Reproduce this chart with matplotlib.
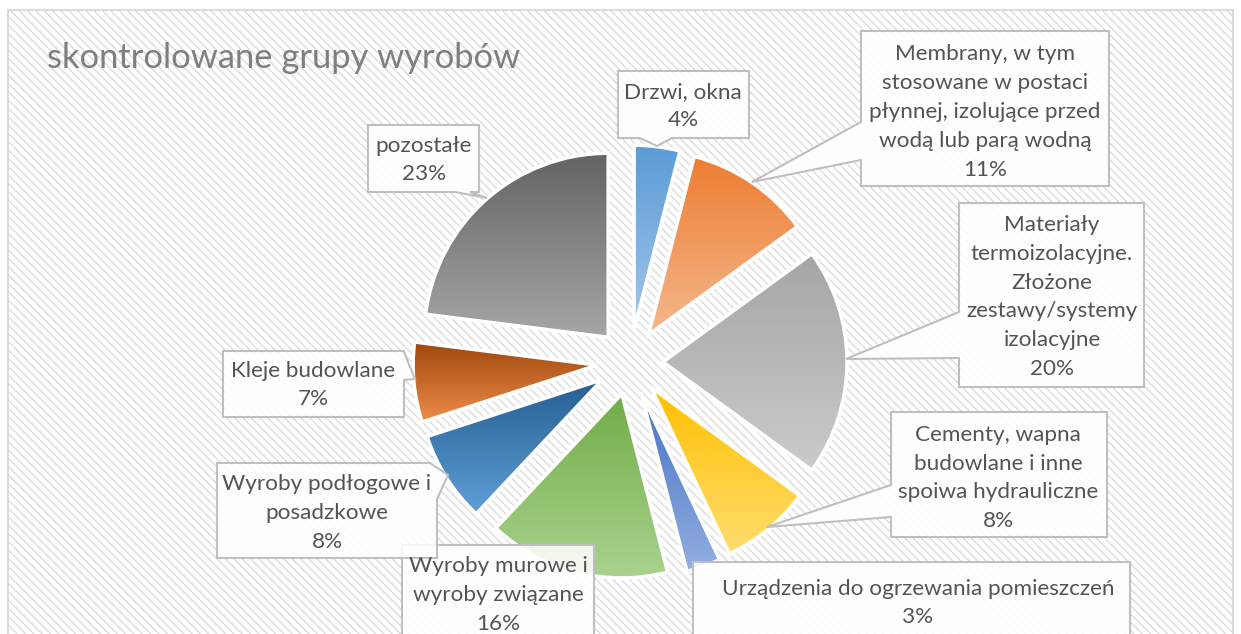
import numpy as np
import matplotlib
matplotlib.use("Agg")
import matplotlib.pyplot as plt
from matplotlib.patches import Rectangle, Polygon
from matplotlib.colors import to_rgb

W, H = 1241, 634

categories = [
    "Drzwi, okna",
    "Membrany, w tym\nstosowane w postaci\npłynnej, izolujące przed\nwodą lub parą wodną",
    "Materiały\ntermoizolacyjne.\nZłożone\nzestawy/systemy\nizolacyjne",
    "Cementy, wapna\nbudowlane i inne\nspoiwa hydrauliczne",
    "Urządzenia do ogrzewania pomieszczeń",
    "Wyroby murowe i\nwyroby związane",
    "Wyroby podłogowe i\nposadzkowe",
    "Kleje budowlane",
    "pozostałe",
]
values = [4, 11, 20, 8, 3, 16, 8, 7, 23]

top_colors = ["#5B9BD5", "#ED7D31", "#A5A5A5", "#FFC000", "#4472C4",
              "#70AD47", "#255E91", "#9E480E", "#636363"]
bottom_colors = ["#A3C6EA", "#F5B88E", "#CBCBCB", "#FFDC70", "#93AEE0",
                 "#AAD28F", "#5F9FD8", "#F08C48", "#A6A6A6"]

plt.rcParams["hatch.linewidth"] = 1.0
plt.rcParams["font.family"] = ["Lato", "DejaVu Sans"]

fig = plt.figure(figsize=(W / 100, H / 100), dpi=100)
ax = fig.add_axes([0, 0, 1, 1])


def iy(y):
    # image row -> data y (y up)
    return H - y


# hatched chart area + border
ax.add_patch(Rectangle((8, -10), 1225, iy(10) + 10, facecolor="white",
                       edgecolor="#DCDCDC", hatch="\\\\\\\\", linewidth=0, zorder=0))
ax.add_patch(Rectangle((8, -10), 1225, iy(10) + 10, facecolor="none",
                       edgecolor="#D9D9D9", linewidth=1.5, zorder=0.5))

# pie
cx, cy, R = 630, iy(362), 184
wedges, _ = ax.pie(values, radius=R, center=(cx, cy), explode=[33] * len(values),
                   startangle=90, counterclock=False, frame=True,
                   wedgeprops=dict(facecolor="none", edgecolor="white", linewidth=2.5))
for w, c_top, c_bot in zip(wedges, top_colors, bottom_colors):
    w.set_zorder(3)
    bb = w.get_path().get_extents()
    t = np.linspace(0, 1, 256)[:, None]
    grad = (1 - t) * np.array(to_rgb(c_top)) + t * np.array(to_rgb(c_bot))
    im = ax.imshow(grad[:, None, :], extent=[bb.x0, bb.x1, bb.y0, bb.y1],
                   origin="upper", aspect="auto", interpolation="bilinear", zorder=2)
    im.set_clip_path(w)


def callout(x0, y0, x1, y1, side=None, b1=None, b2=None, tip=None):
    pts = [(x0, y0)]
    if side == "top":
        pts += [(b1, y0), tip, (b2, y0)]
    if side == "corner":
        pts += [(b1, y0), tip, (x1, b2)]
    else:
        pts += [(x1, y0)]
    if side == "right":
        pts += [(x1, b1), tip, (x1, b2)]
    pts += [(x1, y1)]
    if side == "bottom":
        pts += [(b2, y1), tip, (b1, y1)]
    pts += [(x0, y1)]
    if side == "left":
        pts += [(x0, b2), tip, (x0, b1)]
    pts = [(x, iy(y)) for x, y in pts]
    ax.add_patch(Polygon(pts, closed=True, facecolor=(1, 1, 1, 0.86),
                         edgecolor="#BFBFBF", linewidth=1.5, zorder=4))


boxes = [
    dict(rect=(618, 71, 749, 138), side="bottom", b=(640, 672), tip=(657, 146), pos=(683, 106)),
    dict(rect=(861, 31, 1109, 186), side="left", b=(122, 160), tip=(752, 182), pos=(985, 112)),
    dict(rect=(959, 203, 1144, 387), side="left", b=(312, 358), tip=(846, 359), pos=(1052, 297)),
    dict(rect=(891, 412, 1107, 537), side="left", b=(485, 517), tip=(767, 527), pos=(998, 478)),
    dict(rect=(693, 562, 1130, 700), side=None, b=(None, None), tip=None, pos=(918, 603)),
    dict(rect=(402, 545, 594, 700), side=None, b=(None, None), tip=None, pos=(498, 595)),
    dict(rect=(217, 463, 437, 558), side="corner", b=(430, 499), tip=(448, 475), pos=(327, 513)),
    dict(rect=(223, 351, 404, 417), side="right", b=(352, 380), tip=(415, 379), pos=(313, 385)),
    dict(rect=(368, 125, 479, 192), side="bottom", b=(455, 470), tip=(487, 198), pos=(424, 160)),
]

for cat, v, bx in zip(categories, values, boxes):
    x0, y0, x1, y1 = bx["rect"]
    callout(x0, y0, x1, y1, bx["side"], bx["b"][0], bx["b"][1], bx["tip"])
    px, py = bx["pos"]
    ax.text(px, iy(py), f"{cat}\n{v}%", ha="center", va="center", ma="center",
            fontsize=16.2, color="#545454", linespacing=1.55, zorder=5)

ax.text(47, iy(58), "skontrolowane grupy wyrobów", ha="left", va="center",
        fontsize=24.8, color="#7F7F7F", zorder=5)

ax.set_xlim(0, W)
ax.set_ylim(0, H)
ax.set_aspect("auto")
ax.axis("off")

fig.savefig("out.png", dpi=100, facecolor="white")
